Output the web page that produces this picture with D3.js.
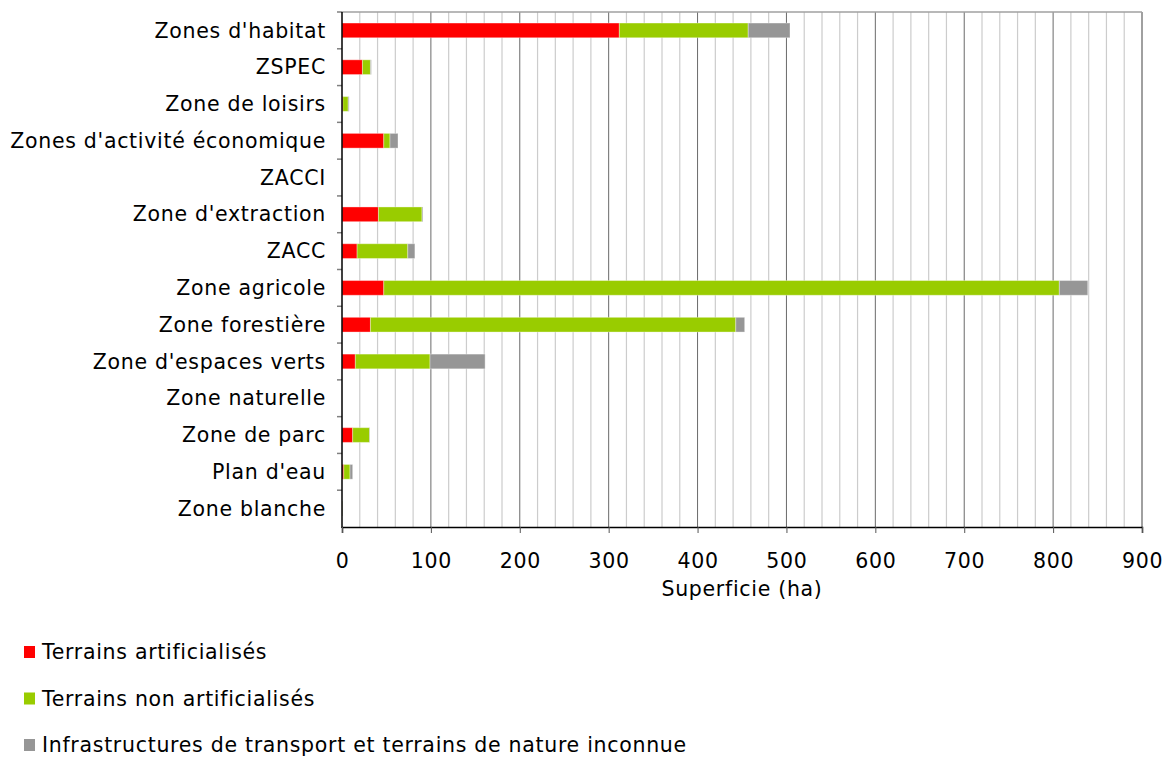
<!DOCTYPE html>
<html>
<head>
<meta charset="utf-8">
<script src="https://cdn.jsdelivr.net/npm/d3@7"></script>
<style>
    body { margin: 0; background: #fff; }
    text { font-family: "DejaVu Sans", Verdana, sans-serif; fill: #000; letter-spacing: 0.7px; }
</style>
</head>
<body>
<div id="chart"></div>
<script>
const zones = [
    "Zones d'habitat", "ZSPEC", "Zone de loisirs", "Zones d'activité économique",
    "ZACCI", "Zone d'extraction", "ZACC", "Zone agricole", "Zone forestière",
    "Zone d'espaces verts", "Zone naturelle", "Zone de parc", "Plan d'eau", "Zone blanche"
];
const artificialises = [312, 23, 1, 47, 0, 41, 17, 47, 32, 15, 0, 12, 2, 0];
const nonArtificialises = [145, 9, 6, 7, 0, 49, 57, 760, 411, 84, 0, 19, 7, 0.5];
const infrastructures = [47, 1, 1, 9, 0, 1, 8, 32, 10, 62, 0, 0.5, 3, 0.5];
const seriesNames = [
    "Terrains artificialisés",
    "Terrains non artificialisés",
    "Infrastructures de transport et terrains de nature inconnue"
];
const seriesColors = ["#ff0000", "#99cc00", "#969696"];
const xTicks = [0, 100, 200, 300, 400, 500, 600, 700, 800, 900];

const width = 1175, height = 758;
const margin = { top: 12, right: 33, bottom: 231, left: 342 };
const innerWidth = width - margin.left - margin.right;
const innerHeight = height - margin.top - margin.bottom;
const fontSize = 20.5;

const rows = zones.map((z, i) => ({
    zone: z,
    a: artificialises[i],
    n: nonArtificialises[i],
    t: infrastructures[i]
}));
const stack = d3.stack().keys(["a", "n", "t"])(rows);

const xScale = d3.scaleLinear().domain([0, 900]).range([0, innerWidth]);
const yScale = d3.scaleBand().domain(zones).range([0, innerHeight]).paddingInner(0.6).paddingOuter(0.3);
const bandScale = d3.scaleBand().domain(zones).range([0, innerHeight]);

const svg = d3.select("#chart").append("svg")
    .attr("width", width).attr("height", height)
    .attr("viewBox", `0 0 ${width} ${height}`);

const innerChart = svg.append("g")
    .attr("transform", `translate(${margin.left}, ${margin.top})`);

// gridlines: minor every 20, major every 100
innerChart.append("g")
    .selectAll("line")
    .data(d3.range(20, 900, 20).filter(v => v % 100 !== 0))
    .join("line")
    .attr("x1", d => xScale(d)).attr("x2", d => xScale(d))
    .attr("y1", 0).attr("y2", innerHeight)
    .attr("stroke", "#cccccc").attr("stroke-width", 1.2);

innerChart.append("g")
    .selectAll("line")
    .data(xTicks.slice(1))
    .join("line")
    .attr("x1", d => xScale(d)).attr("x2", d => xScale(d))
    .attr("y1", 0).attr("y2", innerHeight)
    .attr("stroke", d => d === 900 ? "#808080" : "#6a6a6a").attr("stroke-width", d => d === 900 ? 1.5 : 1);

innerChart.append("line")
    .attr("x1", 0).attr("x2", innerWidth)
    .attr("y1", 0).attr("y2", 0)
    .attr("stroke", "#a0a0a0").attr("stroke-width", 1.5);

// bars
innerChart.append("g")
    .selectAll("g")
    .data(stack)
    .join("g")
    .attr("fill", (d, i) => seriesColors[i])
    .selectAll("rect")
    .data(d => d)
    .join("rect")
    .attr("x", d => xScale(d[0]))
    .attr("y", d => yScale(d.data.zone))
    .attr("width", d => Math.max(0, xScale(d[1]) - xScale(d[0])))
    .attr("height", yScale.bandwidth())
    .attr("stroke", d => d[1] > d[0] ? "rgba(255,255,255,0.35)" : "none")
    .attr("stroke-width", 1);

// y axis ticks at band boundaries
innerChart.append("g")
    .selectAll("line")
    .data(zones)
    .join("line")
    .attr("x1", -5).attr("x2", 0)
    .attr("y1", d => bandScale(d)).attr("y2", d => bandScale(d))
    .attr("stroke", "#808080").attr("stroke-width", 1.5);

innerChart.append("g")
    .selectAll("text")
    .data(zones)
    .join("text")
    .attr("x", -16)
    .attr("y", d => bandScale(d) + bandScale.bandwidth() / 2)
    .attr("dy", "0.35em")
    .attr("text-anchor", "end")
    .attr("font-size", fontSize)
    .text(d => d);

innerChart.append("line")
    .attr("x1", 0).attr("x2", 0)
    .attr("y1", 0).attr("y2", innerHeight + 1)
    .attr("stroke", "#000").attr("stroke-width", 1.5);

// x axis
const xAxis = innerChart.append("g")
    .attr("transform", `translate(0, ${innerHeight})`)
    .call(d3.axisBottom(xScale).tickValues(xTicks).tickSize(6).tickPadding(20));
xAxis.select(".domain").attr("stroke", "#000").attr("stroke-width", 1.5);
xAxis.selectAll(".tick line").attr("stroke", "#555");
xAxis.selectAll(".tick text")
    .attr("font-size", fontSize)
    .attr("font-family", "DejaVu Sans, Verdana, sans-serif");

svg.append("text")
    .attr("x", margin.left + innerWidth / 2)
    .attr("y", 596)
    .attr("text-anchor", "middle")
    .attr("font-size", fontSize)
    .text("Superficie (ha)");

// legend
const legend = svg.append("g")
    .selectAll("g")
    .data(seriesNames)
    .join("g")
    .attr("transform", (d, i) => `translate(24, ${652 + i * 46.5})`);

legend.append("rect")
    .attr("x", 0).attr("y", -6)
    .attr("width", 11).attr("height", 12)
    .attr("fill", (d, i) => seriesColors[i]);

legend.append("text")
    .attr("x", 18)
    .attr("dy", "0.35em")
    .attr("font-size", fontSize)
    .text(d => d);
</script>
</body>
</html>
